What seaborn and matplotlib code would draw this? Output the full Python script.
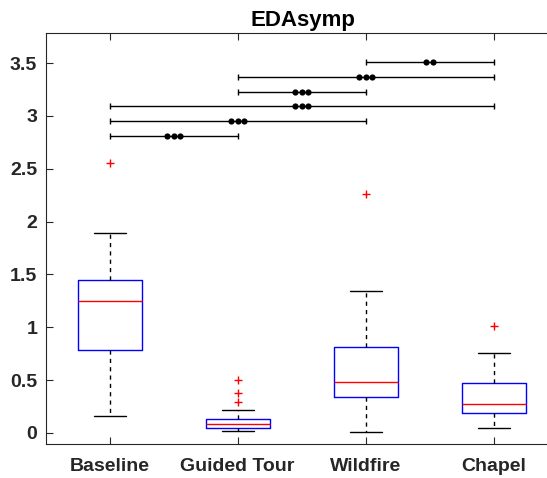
import matplotlib
matplotlib.use("Agg")
import matplotlib.pyplot as plt
import seaborn as sns
import pandas as pd
import numpy as np

# ---- data ----
groups = ["Baseline", "Guided Tour", "Wildfire", "Chapel"]
whisk_lo = [0.161, 0.019, 0.010, 0.042]
q1 = [0.786, 0.045, 0.341, 0.193]
median = [1.250, 0.080, 0.480, 0.269]
q3 = [1.443, 0.127, 0.809, 0.474]
whisk_hi = [1.894, 0.215, 1.339, 0.752]
outliers = [[2.55], [0.505, 0.373, 0.288], [2.26], [1.01]]

# significance comparisons (pairs of group positions), bar heights, number of dots
sig_from = [1, 1, 1, 2, 2, 3]
sig_to = [2, 3, 4, 3, 4, 4]
sig_y = [2.81, 2.95, 3.09, 3.23, 3.37, 3.51]
sig_n = [3, 3, 3, 3, 3, 2]

title = "EDAsymp"
yticks = [0, 0.5, 1, 1.5, 2, 2.5, 3, 3.5]
yticklabels = ["0", "0.5", "1", "1.5", "2", "2.5", "3", "3.5"]

sns.set_theme(style="white")
plt.rcParams["font.family"] = ["Liberation Sans", "DejaVu Sans"]
plt.rcParams["font.weight"] = "bold"

W, H = 547, 478
fig = plt.figure(figsize=(W / 100, H / 100), dpi=100)
fig.patch.set_facecolor("white")
left, right, top, bottom = 45.5, 557.5, 33.0, 444.0
ax = fig.add_axes([left / W, (H - bottom) / H, (right - left) / W, (bottom - top) / H])
ax.set_facecolor("white")

stats = []
for i, g in enumerate(groups):
    stats.append(dict(label=g, whislo=whisk_lo[i], q1=q1[i], med=median[i],
                      q3=q3[i], whishi=whisk_hi[i], fliers=outliers[i]))

positions = np.arange(1, len(groups) + 1)
ax.bxp(stats, positions=positions, widths=0.5, capwidths=0.25, showfliers=False,
       boxprops=dict(color="#0000ff", linewidth=1.0),
       medianprops=dict(color="#ff0000", linewidth=1.0),
       whiskerprops=dict(color="black", linewidth=1.0, linestyle=(0, (3, 3))),
       capprops=dict(color="black", linewidth=1.0))

# outliers
out_df = pd.DataFrame({
    "pos": [positions[i] for i in range(len(groups)) for _ in outliers[i]],
    "val": [v for i in range(len(groups)) for v in outliers[i]],
})
sns.scatterplot(data=out_df, x="pos", y="val", marker="+", color="#ff0000",
                s=40, linewidth=1.0, ax=ax, legend=False, zorder=5)

# significance bars
dot_x, dot_y = [], []
for a, b, y, n in zip(sig_from, sig_to, sig_y, sig_n):
    ax.plot([a, b], [y, y], color="black", linewidth=1.0, zorder=4)
    ax.plot([a, b], [y, y], linestyle="none", marker="|", markersize=5,
            markeredgewidth=1.0, color="black", zorder=4)
    c = (a + b) / 2
    offs = (np.arange(n) - (n - 1) / 2) * 0.05
    dot_x.extend(c + offs)
    dot_y.extend([y] * n)
sns.scatterplot(x=dot_x, y=dot_y, color="black", s=20, edgecolor="black",
                linewidth=0, ax=ax, legend=False, zorder=6)

ax.set_xlim(0.5, 4.5)
ax.set_ylim(-0.105, 3.785)
ax.set_xticks(positions)
ax.set_xticklabels(groups)
ax.set_yticks(yticks)
ax.set_yticklabels(yticklabels)
ax.set_xlabel("")
ax.set_ylabel("")

axcol = "#262626"
for s in ax.spines.values():
    s.set_color(axcol)
    s.set_linewidth(0.8)
ax.spines["right"].set_visible(False)
ax.tick_params(axis="both", direction="in", length=5, width=0.8, color=axcol,
               labelsize=14, labelcolor=axcol, top=True, right=False, left=True, bottom=True)
ax.tick_params(axis="x", pad=10)
ax.tick_params(axis="y", pad=6)
for lab in ax.get_xticklabels() + ax.get_yticklabels():
    lab.set_fontweight("bold")

ax.set_title(title, fontsize=16, fontweight="bold", color="black", pad=5,
             x=(303.0 - left) / (right - left))

fig.savefig("out.png", dpi=100, facecolor="white")
